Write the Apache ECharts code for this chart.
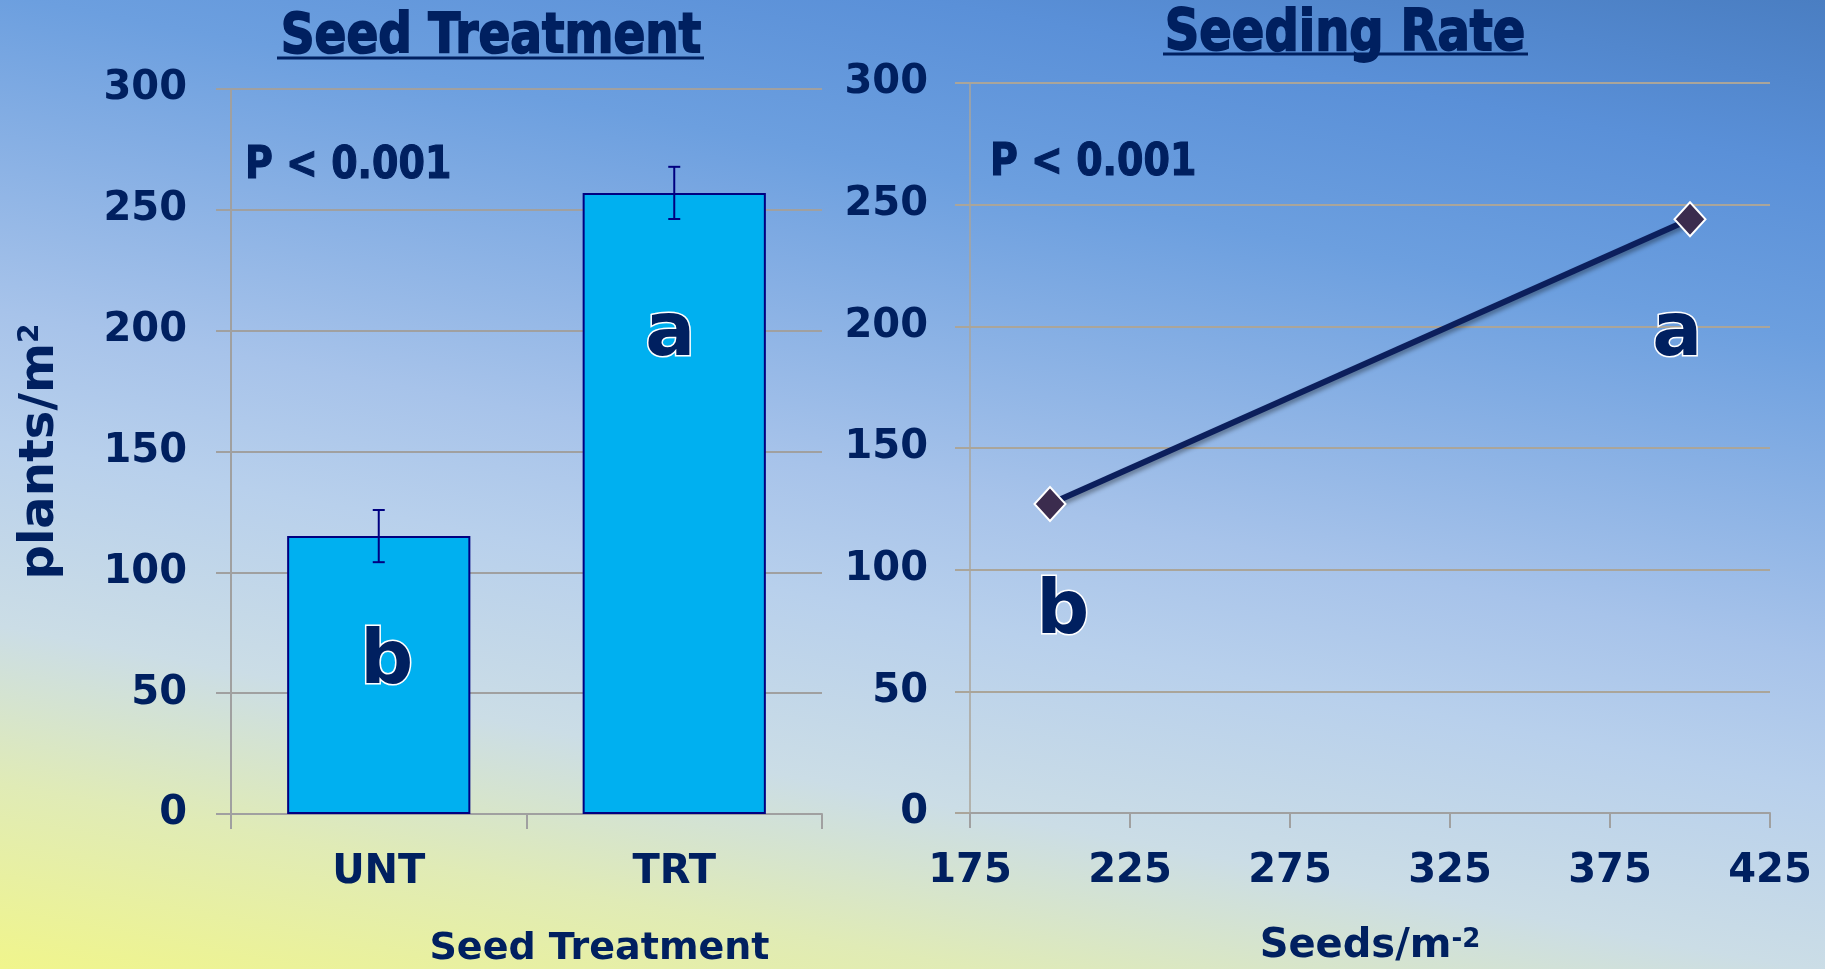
<!DOCTYPE html>
<html>
<head>
<meta charset="utf-8">
<script src="https://cdn.jsdelivr.net/npm/echarts@6/dist/echarts.min.js"></script>
<style>
  html, body { margin: 0; padding: 0; }
  #main { width: 1825px; height: 969px; }
</style>
</head>
<body>
<div id="main"></div>
<script>
// Seed treatment panel
const treatments = ['UNT', 'TRT'];
const plantsMean = [115, 257];
const plantsErr = [10.8, 10.8];
const treatmentLetters = ['b', 'a'];
const treatmentLetterY = [62, 198];

// Seeding rate panel
const seedRates = [200, 400];
const ratePlants = [127, 244];
const rateLetters = ['b', 'a'];
const rateLetterX = [204, 396];
const rateLetterY = [82, 196];
const rateTicks = [175, 225, 275, 325, 375, 425];

const navy = '#002060';
const font = 'DejaVu Sans';

let chart = echarts.init(document.getElementById('main'));

let tickLabel = {
  color: navy,
  fontFamily: font,
  fontWeight: 'bold',
  fontSize: 40
};

let letterLabel = {
  show: true,
  position: 'inside',
  color: navy,
  fontFamily: font,
  fontWeight: 'bold',
  fontSize: 74,
  textBorderColor: '#ffffff',
  textBorderWidth: 3
};

let option = {
  backgroundColor: {
    type: 'linear',
    x: 1, y: 0, x2: 0.868, y2: 1.309,
    colorStops: [
      { offset: 0, color: '#4a7ec2' },
      { offset: 0.13, color: '#5a90d8' },
      { offset: 0.26, color: '#6c9fdf' },
      { offset: 0.5, color: '#a7c3ea' },
      { offset: 0.6, color: '#b8d0ec' },
      { offset: 0.74, color: '#cbdde6' },
      { offset: 0.86, color: '#e0ebb6' },
      { offset: 1, color: '#f0f58c' }
    ]
  },
  grid: [
    { left: 231, right: 1003, top: 89, bottom: 155, outerBoundsMode: 'none' },
    { left: 970, right: 55, top: 83, bottom: 156, outerBoundsMode: 'none' }
  ],
  xAxis: [
    {
      type: 'category',
      gridIndex: 0,
      data: treatments,
      axisLine: { lineStyle: { color: '#a0a0a0', width: 2 } },
      axisTick: { show: true, length: 15, lineStyle: { color: '#a0a0a0', width: 2 } },
      axisLabel: Object.assign({ margin: 39 }, tickLabel),
      name: 'Seed Treatment',
      nameLocation: 'middle',
      nameGap: 116,
      nameTextStyle: {
        color: navy, fontFamily: font, fontWeight: 'bold', fontSize: 38,
        padding: [0, 0, 0, 146]
      }
    },
    {
      type: 'value',
      gridIndex: 1,
      min: 175,
      max: 425,
      splitLine: { show: false },
      axisLine: { show: true, lineStyle: { color: '#a0a0a0', width: 2 } },
      axisTick: { show: true, length: 15, customValues: rateTicks, lineStyle: { color: '#a0a0a0', width: 2 } },
      axisLabel: Object.assign({ margin: 39, customValues: rateTicks }, tickLabel),
      name: '{n|Seeds/m}{s|-2}',
      nameLocation: 'middle',
      nameGap: 114,
      nameTextStyle: {
        rich: {
          n: { color: navy, fontFamily: font, fontWeight: 'bold', fontSize: 40 },
          s: { color: navy, fontFamily: font, fontWeight: 'bold', fontSize: 26, verticalAlign: 'top' }
        }
      }
    }
  ],
  yAxis: [
    {
      type: 'value',
      gridIndex: 0,
      min: 0,
      max: 300,
      interval: 50,
      axisLine: { show: true, lineStyle: { color: '#a0a0a0', width: 2 } },
      axisTick: { show: true, length: 15, lineStyle: { color: '#a0a0a0', width: 2 } },
      splitLine: { lineStyle: { color: '#a0a0a0', width: 2 } },
      axisLabel: Object.assign({ margin: 44, padding: [8, 0, 0, 0] }, tickLabel),
      name: '{n|plants/m}{s|2}',
      nameLocation: 'middle',
      nameRotate: 90,
      nameGap: 166,
      nameTextStyle: {
        rich: {
          n: { color: navy, fontFamily: font, fontWeight: 'bold', fontSize: 48 },
          s: { color: navy, fontFamily: font, fontWeight: 'bold', fontSize: 28, verticalAlign: 'top' }
        }
      }
    },
    {
      type: 'value',
      gridIndex: 1,
      min: 0,
      max: 300,
      interval: 50,
      axisLine: { show: true, lineStyle: { color: '#aaa59a', width: 1.5 } },
      axisTick: { show: true, length: 15, lineStyle: { color: '#aaa59a', width: 2 } },
      splitLine: { lineStyle: { color: '#aaa59a', width: 2 } },
      axisLabel: Object.assign({ margin: 42, padding: [8, 0, 0, 0] }, tickLabel)
    }
  ],
  series: [
    {
      name: 'plants',
      type: 'bar',
      xAxisIndex: 0,
      yAxisIndex: 0,
      data: plantsMean,
      barWidth: '62%',
      itemStyle: { color: '#00b0f0', borderColor: '#000080', borderWidth: 2 }
    },
    {
      name: 'error',
      type: 'custom',
      xAxisIndex: 0,
      yAxisIndex: 0,
      data: plantsMean.map((m, i) => [i, m - plantsErr[i], m + plantsErr[i]]),
      z: 5,
      renderItem: function (params, api) {
        let idx = api.value(0);
        let lo = api.coord([idx, api.value(1)]);
        let hi = api.coord([idx, api.value(2)]);
        let w = 6;
        let st = { stroke: '#000080', lineWidth: 2 };
        return {
          type: 'group',
          children: [
            { type: 'line', shape: { x1: lo[0], y1: lo[1], x2: hi[0], y2: hi[1] }, style: st },
            { type: 'line', shape: { x1: hi[0] - w, y1: hi[1], x2: hi[0] + w, y2: hi[1] }, style: st },
            { type: 'line', shape: { x1: lo[0] - w, y1: lo[1], x2: lo[0] + w, y2: lo[1] }, style: st }
          ]
        };
      }
    },
    {
      name: 'letters1',
      type: 'scatter',
      xAxisIndex: 0,
      yAxisIndex: 0,
      symbolSize: 1,
      itemStyle: { color: 'transparent', opacity: 1 },
      data: treatmentLetterY.map((y, i) => ({
        value: [i, y],
        label: { offset: i === 0 ? [8, 0] : [-4, 0] }
      })),
      label: Object.assign({ formatter: p => treatmentLetters[p.dataIndex] }, letterLabel),
      z: 6
    },
    {
      name: 'rate',
      type: 'line',
      xAxisIndex: 1,
      yAxisIndex: 1,
      data: seedRates.map((x, i) => [x, ratePlants[i]]),
      symbol: 'diamond',
      symbolSize: [31, 34],
      itemStyle: { color: '#3b2c4e', borderColor: '#ffffff', borderWidth: 2 },
      lineStyle: {
        color: '#0c1f5c', width: 6,
        shadowColor: 'rgba(0,0,0,0.35)', shadowBlur: 4, shadowOffsetX: 2, shadowOffsetY: 3
      },
      z: 4
    },
    {
      name: 'letters2',
      type: 'scatter',
      xAxisIndex: 1,
      yAxisIndex: 1,
      symbolSize: 1,
      itemStyle: { color: 'transparent', opacity: 1 },
      data: rateLetterX.map((x, i) => [x, rateLetterY[i]]),
      label: Object.assign({ formatter: p => rateLetters[p.dataIndex] }, letterLabel),
      z: 6
    }
  ],
  graphic: [
    {
      type: 'text', x: 491, y: 38, scaleY: 1.17,
      style: { text: 'Seed Treatment', x: 0, y: 0, align: 'center', verticalAlign: 'middle',
        font: 'bold 47px "DejaVu Sans"', fill: navy, stroke: navy, lineWidth: 1.5 }
    },
    { type: 'line', shape: { x1: 277, y1: 58, x2: 704, y2: 58 }, style: { stroke: navy, lineWidth: 3 } },
    {
      type: 'text', x: 1345, y: 35, scaleY: 1.17,
      style: { text: 'Seeding Rate', x: 0, y: 0, align: 'center', verticalAlign: 'middle',
        font: 'bold 48px "DejaVu Sans"', fill: navy, stroke: navy, lineWidth: 1.5 }
    },
    { type: 'line', shape: { x1: 1163, y1: 54, x2: 1528, y2: 54 }, style: { stroke: navy, lineWidth: 3 } },
    {
      type: 'text', x: 245, y: 167, scaleY: 1.15,
      style: { text: 'P < 0.001', x: 0, y: 0, align: 'left', verticalAlign: 'middle',
        font: 'bold 38px "DejaVu Sans"', fill: navy, stroke: navy, lineWidth: 1 }
    },
    {
      type: 'text', x: 990, y: 164, scaleY: 1.15,
      style: { text: 'P < 0.001', x: 0, y: 0, align: 'left', verticalAlign: 'middle',
        font: 'bold 38px "DejaVu Sans"', fill: navy, stroke: navy, lineWidth: 1 }
    }
  ]
};

chart.setOption(option);
</script>
</body>
</html>
